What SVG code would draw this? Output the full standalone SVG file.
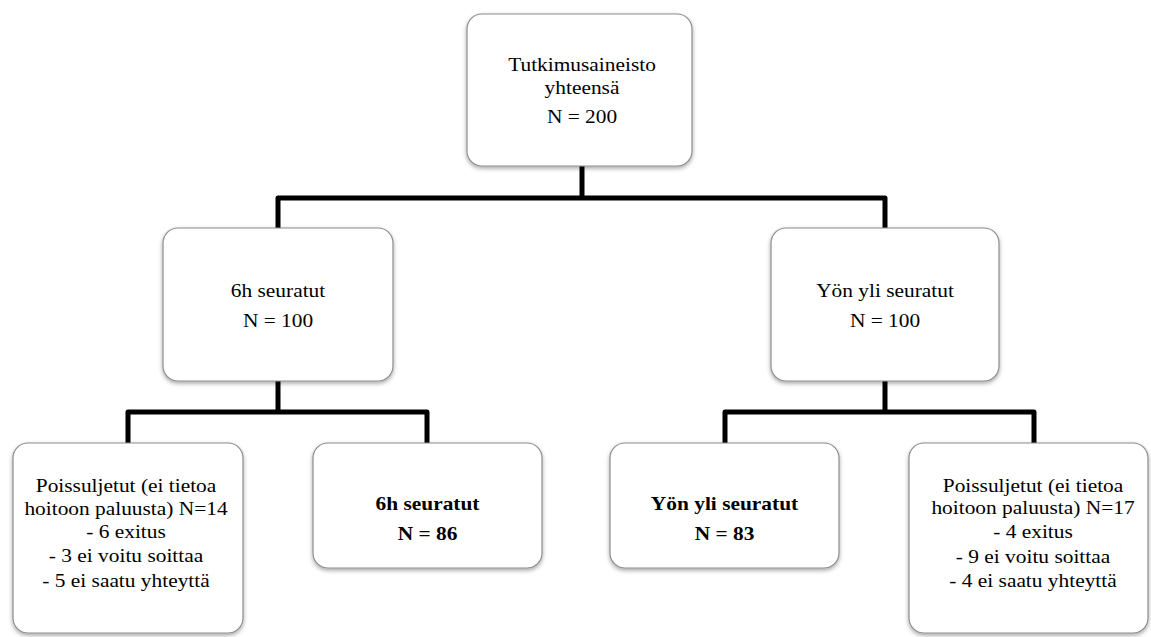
<svg xmlns="http://www.w3.org/2000/svg" width="1151" height="637" viewBox="0 0 1151 637">
<defs>
<filter id="sh" x="-10%" y="-10%" width="120%" height="125%">
<feDropShadow dx="0" dy="2" stdDeviation="2" flood-color="#000" flood-opacity="0.35"/>
</filter>
<style>
.box{fill:#fff;stroke:#8c8c8c;stroke-width:1.2;filter:url(#sh)}
text{font-family:'Liberation Serif','DejaVu Serif','Noto Serif',serif;font-size:18.6px;fill:#000;text-anchor:middle}
.b{font-weight:bold}
.c{fill:none;stroke:#000;stroke-width:5;stroke-linejoin:round}
</style>
</defs>
<rect width="1151" height="637" fill="#fff"/>
<g id="connectors">
<polyline class="c" points="582,166 582,198"/>
<polyline class="c" points="278,228 278,198 885,198 885,228"/>
<polyline class="c" points="278,381 278,412"/>
<polyline class="c" points="128,443 128,412 427,412 427,443"/>
<polyline class="c" points="885,381 885,412"/>
<polyline class="c" points="725,443 725,412 1034,412 1034,443"/>
</g>
<g id="node-total">
<rect class="box" x="467" y="14" width="225" height="152" rx="15"/>
<text font-family="Liberation Serif, serif" transform="matrix(1.15 0 0 1 582 71)">Tutkimusaineisto</text>
<text font-family="Liberation Serif, serif" transform="matrix(1.15 0 0 1 582 94)">yhteensä</text>
<text font-family="Liberation Serif, serif" transform="matrix(1.15 0 0 1 582 123)">N = 200</text>
</g>
<g id="node-6h">
<rect class="box" x="163" y="228" width="230" height="153" rx="15"/>
<text font-family="Liberation Serif, serif" transform="matrix(1.15 0 0 1 278 297)">6h seuratut</text>
<text font-family="Liberation Serif, serif" transform="matrix(1.15 0 0 1 278 327)">N = 100</text>
</g>
<g id="node-yon">
<rect class="box" x="771" y="228" width="228" height="153" rx="15"/>
<text font-family="Liberation Serif, serif" transform="matrix(1.15 0 0 1 885 297)">Yön yli seuratut</text>
<text font-family="Liberation Serif, serif" transform="matrix(1.15 0 0 1 885 327)">N = 100</text>
</g>
<g id="node-excl-6h">
<rect class="box" x="13" y="443" width="230" height="190" rx="15"/>
<text font-family="Liberation Serif, serif" transform="matrix(1.15 0 0 1 126 492)">Poissuljetut (ei tietoa</text>
<text font-family="Liberation Serif, serif" transform="matrix(1.15 0 0 1 126 515)">hoitoon paluusta) N=14</text>
<text font-family="Liberation Serif, serif" transform="matrix(1.15 0 0 1 126 538)">- 6 exitus</text>
<text font-family="Liberation Serif, serif" transform="matrix(1.15 0 0 1 126 562)">- 3 ei voitu soittaa</text>
<text font-family="Liberation Serif, serif" transform="matrix(1.15 0 0 1 126 587)">- 5 ei saatu yhteyttä</text>
</g>
<g id="node-6h-final">
<rect class="box" x="313" y="443" width="229" height="125" rx="15"/>
<text class="b" font-family="Liberation Serif, serif" transform="matrix(1.15 0 0 1 427.5 510)">6h seuratut</text>
<text class="b" font-family="Liberation Serif, serif" transform="matrix(1.15 0 0 1 427.5 540)">N = 86</text>
</g>
<g id="node-yon-final">
<rect class="box" x="610" y="443" width="229" height="125" rx="15"/>
<text class="b" font-family="Liberation Serif, serif" transform="matrix(1.15 0 0 1 724.5 510)">Yön yli seuratut</text>
<text class="b" font-family="Liberation Serif, serif" transform="matrix(1.15 0 0 1 724.5 540)">N = 83</text>
</g>
<g id="node-excl-yon">
<rect class="box" x="909" y="443" width="239" height="190" rx="15"/>
<text font-family="Liberation Serif, serif" transform="matrix(1.15 0 0 1 1033 492)">Poissuljetut (ei tietoa</text>
<text font-family="Liberation Serif, serif" transform="matrix(1.15 0 0 1 1033 514)">hoitoon paluusta) N=17</text>
<text font-family="Liberation Serif, serif" transform="matrix(1.15 0 0 1 1033 538)">- 4 exitus</text>
<text font-family="Liberation Serif, serif" transform="matrix(1.15 0 0 1 1033 563)">- 9 ei voitu soittaa</text>
<text font-family="Liberation Serif, serif" transform="matrix(1.15 0 0 1 1033 587)">- 4 ei saatu yhteyttä</text>
</g>
</svg>
